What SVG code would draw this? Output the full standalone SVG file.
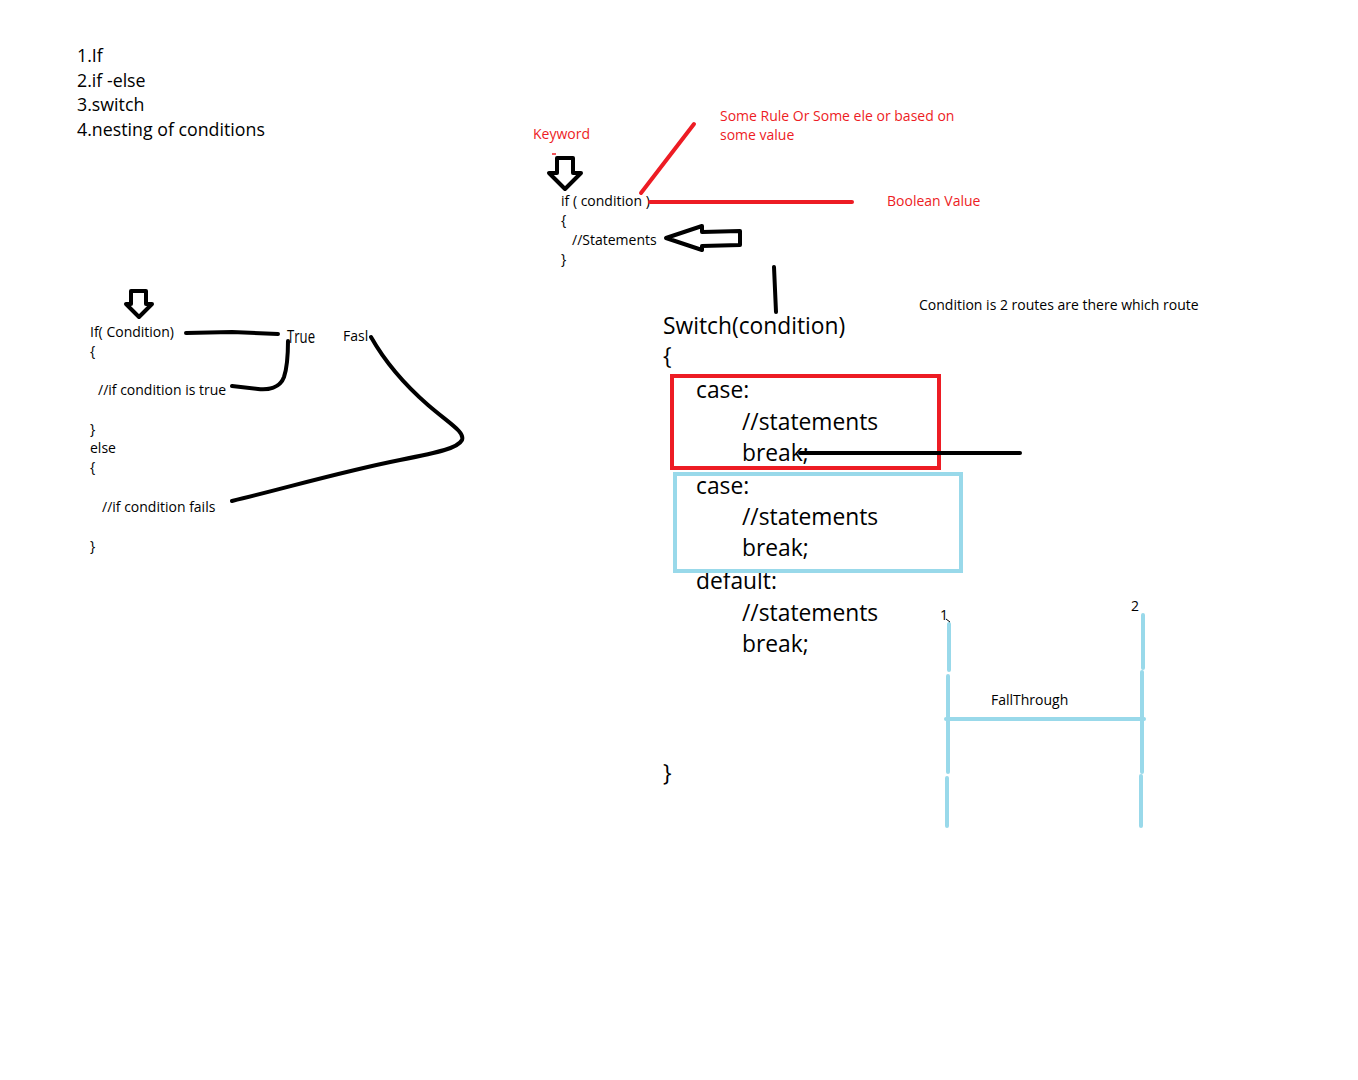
<svg xmlns="http://www.w3.org/2000/svg" width="1358" height="1080" viewBox="0 0 1358 1080">
  <style>
    text { font-family: "Open Sans", "Noto Sans", "Liberation Sans", sans-serif; fill: #000; }
    .s14 { font-size: 14px; }
    .s18 { font-size: 17.8px; }
    .s23 { font-size: 22.8px; }
    .red { fill: #ed1c24; }
    .ink { fill: none; stroke: #000; stroke-width: 4; stroke-linecap: round; stroke-linejoin: round; }
    .rink { fill: none; stroke: #ed1c24; stroke-width: 4; stroke-linecap: round; }
    .bink { fill: none; stroke: #99d9ea; stroke-width: 4; stroke-linecap: round; }
    .hollow { fill: #fff; stroke: #000; stroke-width: 4; stroke-linejoin: round; }
  </style>
  <rect width="1358" height="1080" fill="#fff"/>

  <!-- topic list -->
  <g id="topics" class="s18">
    <text x="77" y="62">1.If</text>
    <text x="77" y="87">2.if -else</text>
    <text x="77" y="111">3.switch</text>
    <text x="77" y="136">4.nesting of conditions</text>
  </g>

  <!-- if syntax with annotations -->
  <g id="if-syntax" class="s14">
    <text x="561" y="206">if ( condition )</text>
    <text x="561" y="225">{</text>
    <text x="572" y="245">//Statements</text>
    <text x="561" y="264">}</text>
  </g>
  <g id="label-keyword" class="s14"><text class="red" x="533" y="139">Keyword</text></g>
  <g id="label-rule" class="s14">
    <text class="red" x="720" y="121">Some Rule Or Some ele or based on</text>
    <text class="red" x="720" y="140">some value</text>
  </g>
  <g id="label-boolean" class="s14"><text class="red" x="887" y="206">Boolean Value</text></g>

  <!-- if / else example -->
  <g id="if-else" class="s14">
    <text x="90" y="337">If( Condition)</text>
    <text x="90" y="356">{</text>
    <text x="98" y="395">//if condition is true</text>
    <text x="90" y="434">}</text>
    <text x="90" y="453">else</text>
    <text x="90" y="472">{</text>
    <text x="102" y="512">//if condition fails</text>
    <text x="90" y="551">}</text>
  </g>
  <g id="label-true"><text x="287" y="343" font-size="18" textLength="28" lengthAdjust="spacingAndGlyphs">True</text></g>
  <g id="label-false" class="s14"><text x="343" y="341">Fasl</text></g>

  <!-- switch syntax -->
  <g id="switch" class="s23">
    <text x="663" y="334">Switch(condition)</text>
    <text x="663" y="364">{</text>
    <text x="696" y="398">case:</text>
    <text x="742" y="430">//statements</text>
    <text x="742" y="461">break;</text>
    <text x="696" y="494">case:</text>
    <text x="742" y="525">//statements</text>
    <text x="742" y="556">break;</text>
    <text x="696" y="589">default:</text>
    <text x="742" y="621">//statements</text>
    <text x="742" y="652">break;</text>
    <text x="663" y="781">}</text>
  </g>
  <g id="label-routes" class="s14"><text x="919" y="310">Condition is 2 routes are there which route</text></g>

  <!-- case highlight boxes -->
  <g id="case-1-box"><rect class="rink" x="672" y="376" width="267" height="92" stroke-linecap="butt"/></g>
  <g id="case-2-box"><rect class="bink" x="675" y="474" width="286" height="97" stroke-linecap="butt"/></g>

  <!-- fall-through sketch -->
  <g id="fallthrough">
    <text class="s14" x="940" y="620">1</text>
    <text class="s14" x="1131" y="611">2</text>
    <text class="s14" x="991" y="705">FallThrough</text>
    <path d="M946 619 l4 3 l-3 3" stroke="#000" stroke-width="1" fill="none"/>
    <path class="bink" d="M949 624 L949 670 M948 676 L948 772 M947 778 L947 826"/>
    <path class="bink" d="M1143 615 L1143 668 M1142 672 L1142 772 M1141 776 L1141 826"/>
    <path class="bink" d="M946 719 L1144 719"/>
  </g>

  <!-- connectors and pointer arrows -->
  <g id="connectors">
    <path class="rink" d="M641 193 L694 124"/>
    <path class="rink" d="M650 202 L852 202"/>
    <path class="ink" d="M774 267 L776 312"/>
    <path class="ink" d="M800 453 L1020 453"/>
    <path class="ink" d="M186 333 L232 332 L278 334"/>
    <path class="ink" d="M288 341 C288 355 287 368 284 377 C280 388 268 390 258 389 L232 386"/>
    <path class="ink" d="M371 337 C384 360 405 385 428 405 C450 424 465 432 462 440 C458 448 440 452 400 460 C340 472 290 487 232 501"/>
    <path d="M552 154 l4 0" stroke="#ed1c24" stroke-width="1.5"/>
    <path class="hollow" d="M557 158 L573 158 L573 173 L581 173 L565 189 L549 173 L557 173 Z"/>
    <path class="hollow" d="M131 291 L146 291 L146 304 L152 304 L139 317 L126 304 L131 304 Z"/>
    <path class="hollow" d="M740 231 L702 232 L702 226 L666 238 L702 250 L702 246 L740 245 Z"/>
  </g>
</svg>
